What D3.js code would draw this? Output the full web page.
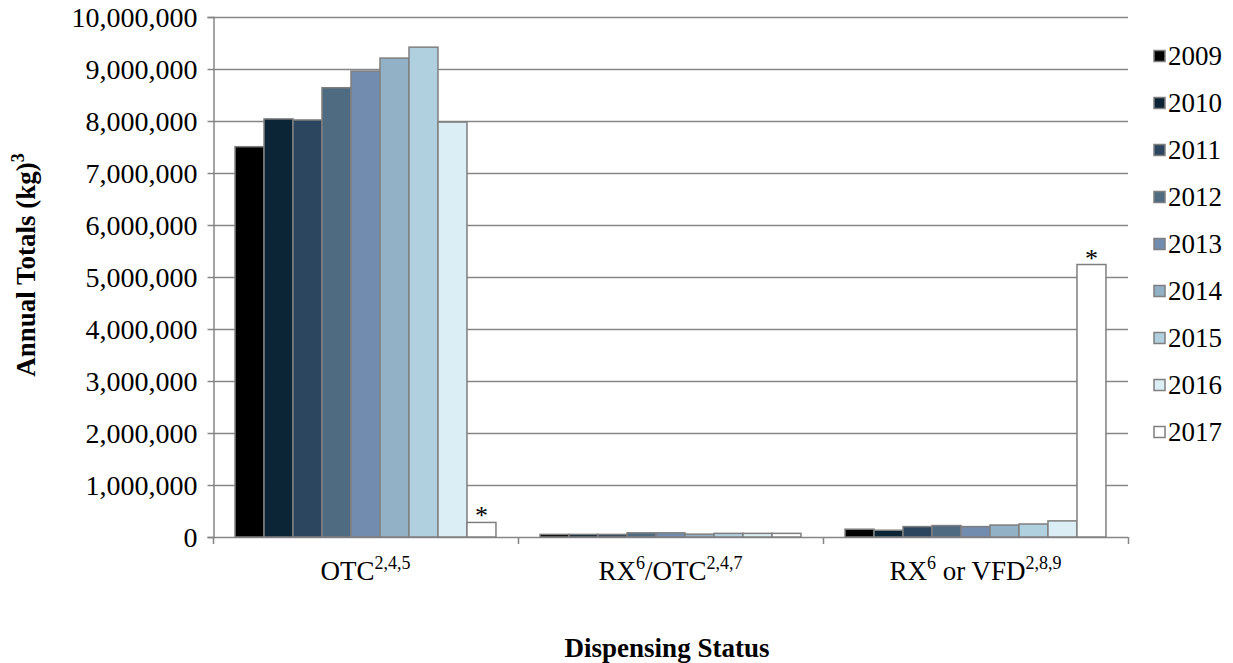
<!DOCTYPE html>
<html><head><meta charset="utf-8">
<script src="https://cdn.jsdelivr.net/npm/d3@7"></script>
</head><body style="margin:0;background:#fff"><svg id="c" width="1233" height="663" font-family="Liberation Serif"></svg>
<script>
const categories = ["OTC", "RX/OTC", "RX or VFD"];
const years = ["2009","2010","2011","2012","2013","2014","2015","2016","2017"];
const otc     = [7506000, 8040000, 8020000, 8640000, 8960000, 9210000, 9420000, 7980000, 280000];
const rxOtc   = [50000, 50000, 50000, 80000, 80000, 55000, 70000, 70000, 70000];
const rxVfd   = [150000, 130000, 200000, 220000, 200000, 230000, 250000, 310000, 5240000];
const yTicks  = [0,1000000,2000000,3000000,4000000,5000000,6000000,7000000,8000000,9000000,10000000];
const colors  = ["#000000","#0b2536","#2c4660","#4e6b82","#728caf","#93b1c6","#b0d0e0","#dbeef5","#ffffff"];
const asterisks = [{cat:"OTC", year:"2017"}, {cat:"RX or VFD", year:"2017"}];
const seriesByCat = {"OTC": otc, "RX/OTC": rxOtc, "RX or VFD": rxVfd};

const FONT = "Liberation Serif";
const svg = d3.select("#c");
const L = 213, R = 1128, T = 17, B = 537;
const y = d3.scaleLinear().domain([0, 10000000]).range([B, T]);
const x0 = d3.scaleBand().domain(categories).range([L, R]).paddingInner(0).paddingOuter(0);
const x1 = d3.scaleBand().domain(years).range([0, x0.bandwidth()]).paddingInner(0).paddingOuter(0.76);
const grey = "#868686";

// gridlines
svg.append("g").selectAll("line").data(yTicks.slice(1)).join("line")
  .attr("x1", L).attr("x2", R).attr("y1", d => y(d)+0.5).attr("y2", d => y(d)+0.5)
  .attr("stroke", grey).attr("stroke-width", 1.5);

// y axis
const yAxis = svg.append("g").attr("transform", `translate(${L+0.5},0)`)
  .call(d3.axisLeft(y).tickValues(yTicks).tickSize(6).tickPadding(10).tickFormat(d3.format(",")))
  .attr("font-family", FONT).attr("font-size", 28);
yAxis.select(".domain").attr("stroke", grey).attr("stroke-width", 1.5);
yAxis.selectAll(".tick line").attr("stroke", grey).attr("stroke-width", 1.5);
yAxis.selectAll("text").attr("font-size", 28).attr("font-family", FONT).attr("fill", "#000").attr("dy", "0.34em");

// x axis line and ticks
svg.append("line").attr("x1", L).attr("x2", R).attr("y1", B+0.5).attr("y2", B+0.5).attr("stroke", grey).attr("stroke-width", 1.5);
const bounds = categories.map(c => x0(c)).concat([R]);
svg.append("g").selectAll("line").data(bounds).join("line")
  .attr("x1", d => d+0.5).attr("x2", d => d+0.5).attr("y1", B).attr("y2", B+7)
  .attr("stroke", grey).attr("stroke-width", 1.5);

// bars
const groups = svg.append("g").selectAll("g").data(categories).join("g")
  .attr("transform", c => `translate(${x0(c)},0)`);
groups.selectAll("rect").data(c => years.map((yr, i) => ({yr, i, v: seriesByCat[c][i]}))).join("rect")
  .attr("x", d => x1(d.yr)).attr("width", x1.bandwidth())
  .attr("y", d => y(d.v)).attr("height", d => B - y(d.v))
  .attr("fill", d => colors[d.i]).attr("stroke", "#7f7f7f").attr("stroke-width", 1.5);

// asterisks
svg.append("g").selectAll("text").data(asterisks).join("text")
  .attr("font-family", FONT)
  .attr("x", d => x0(d.cat) + x1(d.year) + x1.bandwidth()/2)
  .attr("y", d => y(seriesByCat[d.cat][years.indexOf(d.year)]) + 2)
  .attr("text-anchor", "middle").attr("font-size", 26).text("*");

// x labels with superscripts
const xLabels = {
  "OTC": [["OTC", false], ["2,4,5", true]],
  "RX/OTC": [["RX", false], ["6", true], ["/OTC", false], ["2,4,7", true]],
  "RX or VFD": [["RX", false], ["6", true], [" or VFD", false], ["2,8,9", true]]
};
categories.forEach(c => {
  const t = svg.append("text").attr("font-family", FONT).attr("x", x0(c) + x0.bandwidth()/2).attr("y", 580)
    .attr("text-anchor", "middle").attr("font-size", 27).attr("xml:space", "preserve");
  let prevSup = false;
  xLabels[c].forEach(([s, sup]) => {
    const ts = t.append("tspan").text(s);
    if (sup) { ts.attr("font-size", 18).attr("dy", prevSup ? 0 : -11); }
    else { ts.attr("dy", prevSup ? 11 : 0); }
    prevSup = sup;
  });
});

// axis titles
svg.append("text").attr("font-family", FONT).attr("x", 667).attr("y", 657).attr("text-anchor", "middle")
  .attr("font-size", 27).attr("font-weight", "bold").text("Dispensing Status");
const yt = svg.append("text").attr("font-family", FONT).attr("transform", "translate(35,265) rotate(-90)")
  .attr("text-anchor", "middle").attr("font-size", 27).attr("font-weight", "bold");
yt.append("tspan").text("Annual Totals (kg)");
yt.append("tspan").attr("font-size", 18).attr("dy", -11).text("3");

// legend
const lg = svg.append("g").selectAll("g").data(years).join("g")
  .attr("transform", (d, i) => `translate(1153,${56 + i*47})`);
lg.append("rect").attr("x", 1).attr("y", -5.5).attr("width", 11).attr("height", 11)
  .attr("fill", (d, i) => colors[i]).attr("stroke", "#7f7f7f").attr("stroke-width", 1.5);
lg.append("text").attr("font-family", FONT).attr("x", 15).attr("y", 9).attr("font-size", 27).text(d => d);
</script></body></html>
